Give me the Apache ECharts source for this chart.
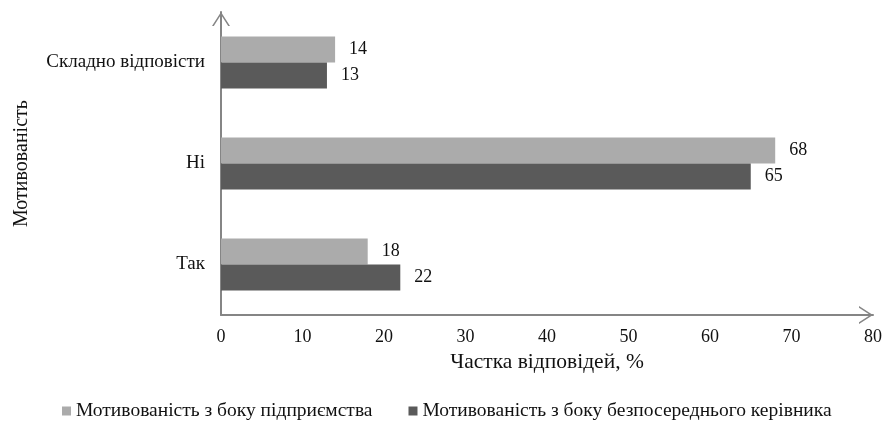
<!DOCTYPE html>
<html>
<head>
<meta charset="utf-8">
<script src="https://cdn.jsdelivr.net/npm/echarts@6/dist/echarts.min.js"></script>
<style>
  html, body { margin: 0; padding: 0; background: #fff; }
  #chart { width: 885px; height: 421px; }
</style>
</head>
<body>
<div id="chart"></div>
<script>
// categories listed bottom to top
var categories = ['Так', 'Ні', 'Складно відповісти']
var seriesNames = ['Мотивованість з боку підприємства', 'Мотивованість з боку безпосереднього керівника']
var enterprise = [18, 68, 14]
var manager = [22, 65, 13]
var xTicks = [0, 10, 20, 30, 40, 50, 60, 70, 80]

var serif = 'Liberation Serif'
var axisGray = '#858585'
var ink = '#111'
// thin open chevron, pointing up before the axis rotates it
var chevron = 'path://M0,14 L9,0 L18,14 L16.2,14 L9,2.8 L1.8,14 Z'

var chart = echarts.init(document.getElementById('chart'))

var valueLabel = { show: true, position: 'right', distance: 14, fontFamily: serif, fontSize: 18, color: ink }

var option = {
  animation: false,
  textStyle: { fontFamily: serif },
  grid: { left: 221, right: 10, top: 12, bottom: 106 },
  legend: {
    data: seriesNames,
    left: 62,
    top: 401,
    padding: 0,
    icon: 'rect',
    itemWidth: 9,
    itemHeight: 9,
    itemGap: 36,
    textStyle: { fontFamily: serif, fontSize: 19.5, color: ink }
  },
  xAxis: {
    type: 'value',
    min: xTicks[0],
    max: xTicks[xTicks.length - 1],
    interval: xTicks[1] - xTicks[0],
    name: 'Частка відповідей, %',
    nameLocation: 'middle',
    nameGap: 33,
    nameTextStyle: { fontFamily: serif, fontSize: 21.5, color: ink },
    axisLine: {
      show: true,
      lineStyle: { color: axisGray, width: 2 },
      symbol: ['none', chevron],
      symbolSize: [18, 14],
      symbolOffset: [0, -7]
    },
    axisTick: { show: false },
    splitLine: { show: false },
    axisLabel: { margin: 13, fontFamily: serif, fontSize: 18, color: ink }
  },
  yAxis: {
    type: 'category',
    data: categories,
    name: 'Мотивованість',
    nameLocation: 'middle',
    nameGap: 189,
    nameTextStyle: { fontFamily: serif, fontSize: 20, color: ink },
    axisLine: {
      show: true,
      lineStyle: { color: axisGray, width: 2 },
      symbol: ['none', chevron],
      symbolSize: [18, 14],
      symbolOffset: [0, -7]
    },
    axisTick: { show: false },
    axisLabel: { margin: 16, fontFamily: serif, fontSize: 19, color: ink }
  },
  series: [
    {
      name: seriesNames[0],
      type: 'bar',
      data: enterprise,
      barWidth: 26,
      barGap: '0%',
      itemStyle: { color: '#ababab' },
      label: valueLabel
    },
    {
      name: seriesNames[1],
      type: 'bar',
      data: manager,
      barWidth: 26,
      barGap: '0%',
      itemStyle: { color: '#5a5a5a' },
      label: valueLabel
    }
  ]
}

chart.setOption(option)
</script>
</body>
</html>
